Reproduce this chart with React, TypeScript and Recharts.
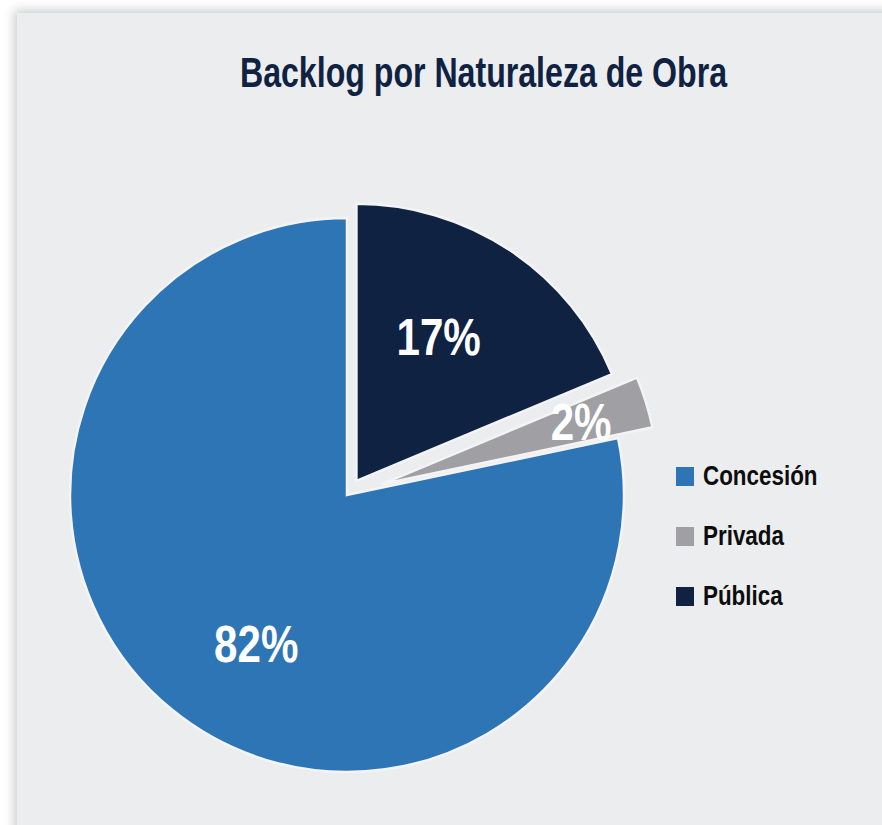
import React from 'react';
import { PieChart, Pie, Cell, Legend } from 'recharts';

// values; printed labels kept as shown in the source
const names = ['Concesión', 'Privada', 'Pública'];
const values = [78.3, 3.0, 18.7];
const printedLabels = ['82%', '2%', '17%'];
const colors = ['#2E75B6', '#A0A0A4', '#0F2242'];

const BG = '#ECEDEF';
const FONT = '"Liberation Sans", Arial, sans-serif';
const NARROW = 0.81; // condensed look, no narrow font installed
const RADIAN = Math.PI / 180;

const CX = 347;
const CY = 495;
const R = 277;
const START = 90;

// how far each slice is pulled out, and where its label sits
const explode = [0, 36, 17];
const labelTweak = [
  { r: 0.63, da: 7.7 },
  { r: 0.755, da: 0 },
  { r: 0.6, da: 4 },
];

const chartData = names.map((name, i) => ({ name, value: values[i] }));

// mid angle of every slice, same convention as recharts (ccw from 3 o'clock)
const total = values.reduce((a, b) => a + b, 0);
const midAngles: number[] = [];
let acc = START;
values.forEach((v) => {
  const span = (v / total) * 360;
  midAngles.push(acc + span / 2);
  acc += span;
});

const centers = midAngles.map((m, i) => ({
  x: CX + explode[i] * Math.cos(m * RADIAN),
  y: CY - explode[i] * Math.sin(m * RADIAN),
}));

const makeLabel = (slice: number) => (props: any) => {
  const { cx, cy, midAngle, outerRadius, index } = props;
  if (index !== slice) return null;
  const t = labelTweak[slice];
  const a = (midAngle + t.da) * RADIAN;
  const r = outerRadius * t.r;
  const x = cx + r * Math.cos(a);
  const y = cy - r * Math.sin(a);
  return (
    <text
      transform={`translate(${x},${y}) scale(${NARROW},1)`}
      x={0}
      y={0}
      fill="#fff"
      textAnchor="middle"
      dominantBaseline="central"
      fontFamily={FONT}
      fontWeight="bold"
      fontSize={52}
    >
      {printedLabels[index]}
    </text>
  );
};

const renderLegend = (props: any) => {
  const items = (props.payload || []).filter((p: any) => p.color && p.color !== 'transparent');
  return (
    <div>
      {items.map((p: any) => (
        <div key={p.value} style={{ display: 'flex', alignItems: 'center', height: 60 }}>
          <span style={{ width: 18, height: 19, background: p.color, display: 'inline-block', marginRight: 9 }} />
          <span
            style={{
              display: 'inline-block',
              transform: 'scaleX(0.8)',
              transformOrigin: 'left center',
              whiteSpace: 'nowrap',
              fontFamily: FONT,
              fontWeight: 'bold',
              fontSize: 28,
              lineHeight: '28px',
              color: '#0d0d0d',
            }}
          >
            {p.value}
          </span>
        </div>
      ))}
    </div>
  );
};

export default function App() {
  return (
    <div style={{ position: 'absolute', left: 0, top: 0, width: 882, height: 825, background: '#fff', overflow: 'hidden' }}>
      <div
        style={{
          position: 'absolute',
          left: 17,
          top: 13,
          width: 900,
          height: 850,
          background: BG,
          boxShadow: '-3px -3px 10px rgba(0,0,0,0.2)',
        }}
      />
      <div style={{ position: 'absolute', left: 0, top: 0 }}>
        <PieChart width={882} height={825} margin={{ top: 0, right: 0, bottom: 0, left: 0 }}>
          {names.map((_, slice) => (
            <Pie
              key={slice}
              data={chartData}
              dataKey="value"
              nameKey="name"
              cx={centers[slice].x}
              cy={centers[slice].y}
              outerRadius={R}
              startAngle={START}
              endAngle={START + 360}
              labelLine={false}
              label={makeLabel(slice)}
              isAnimationActive={false}
            >
              {chartData.map((d, i) => (
                <Cell
                  key={d.name}
                  fill={i === slice ? colors[i] : 'transparent'}
                  stroke={i === slice ? '#F4F4F5' : 'none'}
                  strokeWidth={2.5}
                />
              ))}
            </Pie>
          ))}
          <Legend
            content={renderLegend}
            layout="vertical"
            wrapperStyle={{ left: 676, top: 446, width: 200 }}
          />
        </PieChart>
      </div>
      <svg width={882} height={110} style={{ position: 'absolute', left: 0, top: 0 }}>
        <text
          transform="translate(483.5,86.7) scale(0.747,1)"
          x={0}
          y={0}
          textAnchor="middle"
          fontFamily={FONT}
          fontWeight="bold"
          fontSize={43}
          fill="#0F2242"
        >
          Backlog por Naturaleza de Obra
        </text>
      </svg>
    </div>
  );
}
